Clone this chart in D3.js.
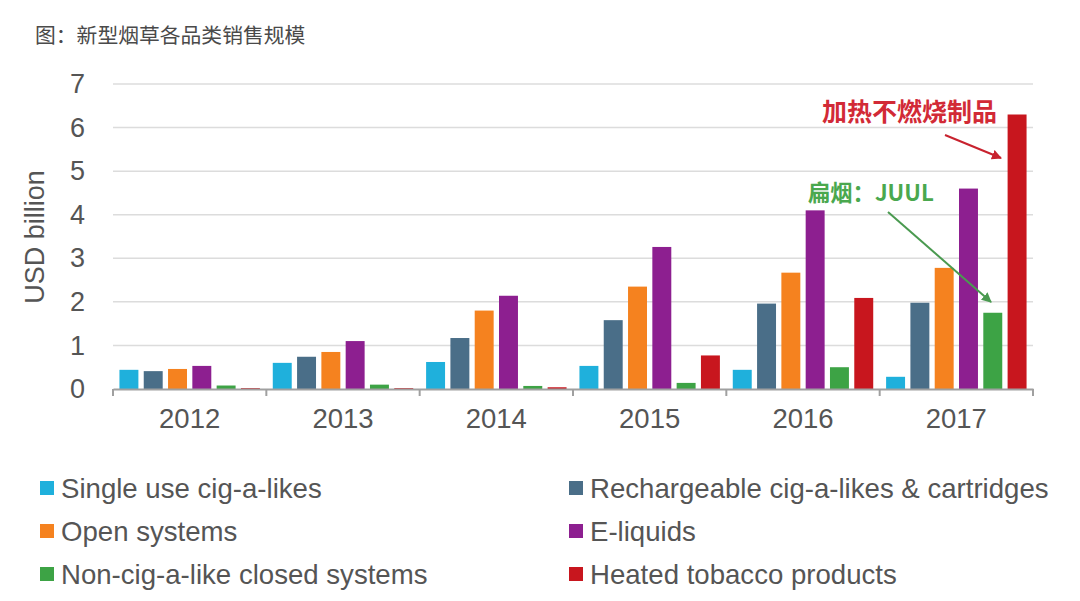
<!DOCTYPE html>
<html>
<head>
<meta charset="utf-8">
<script src="https://cdn.jsdelivr.net/npm/d3@7"></script>
<style>
  body { margin: 0; background: #fff; }
  svg { font-family: "Liberation Sans", Arial, sans-serif; }
</style>
</head>
<body>
<svg id="chart" width="1080" height="601"></svg>
<script>
var years = ["2012", "2013", "2014", "2015", "2016", "2017"];
var seriesNames = [
    "Single use cig-a-likes",
    "Rechargeable cig-a-likes & cartridges",
    "Open systems",
    "E-liquids",
    "Non-cig-a-like closed systems",
    "Heated tobacco products"
];
var singleUse     = [0.44, 0.60, 0.62, 0.53, 0.44, 0.28];
var rechargeable  = [0.41, 0.74, 1.17, 1.58, 1.96, 1.98];
var openSystems   = [0.46, 0.85, 1.80, 2.35, 2.67, 2.78];
var eLiquids      = [0.53, 1.10, 2.14, 3.26, 4.10, 4.60];
var closedSystems = [0.08, 0.10, 0.07, 0.14, 0.50, 1.75];
var heated        = [0.02, 0.02, 0.04, 0.77, 2.09, 6.30];
var yTicks = [0, 1, 2, 3, 4, 5, 6, 7];
var colors = ["#1fb0dc", "#4a6e88", "#f5821f", "#8d1f90", "#3da345", "#c8161e"];

var allSeries = [singleUse, rechargeable, openSystems, eLiquids, closedSystems, heated];

var svg = d3.select("#chart");
var plotLeft = 113, plotRight = 1033, plotTop = 84, plotBottom = 389;

var x0 = d3.scaleBand().domain(years).range([plotLeft, plotRight]).padding(0);
var x1 = d3.scaleBand().domain(d3.range(6)).range([0, x0.bandwidth()])
    .paddingInner(0.22).paddingOuter(0.265);
var y = d3.scaleLinear().domain([0, 7]).range([plotBottom, plotTop]);

// title
svg.append("text")
    .attr("x", 35).attr("y", 43)
    .attr("fill", "#4a4a4a")
    .style("font-family", "'Noto Sans CJK SC', sans-serif")
    .style("font-size", "20.8px")
    .text("图：新型烟草各品类销售规模");

// gridlines
svg.append("g")
    .selectAll("line")
    .data(yTicks.slice(1))
    .enter().append("line")
    .attr("x1", plotLeft).attr("x2", plotRight)
    .attr("y1", function (d) { return y(d); })
    .attr("y2", function (d) { return y(d); })
    .attr("stroke", "#dcdcdc")
    .attr("stroke-width", 1.5);

// y tick labels
var yAxis = svg.append("g")
    .attr("transform", "translate(" + plotLeft + ",0)")
    .call(d3.axisLeft(y).tickValues(yTicks).tickFormat(d3.format("d")).tickSize(0).tickPadding(28));
yAxis.select(".domain").remove();
yAxis.selectAll("text")
    .attr("fill", "#555")
    .style("font-size", "27px")
    .style("font-family", "'Liberation Sans', Arial, sans-serif");

svg.append("text")
    .attr("transform", "translate(44,237) rotate(-90)")
    .attr("text-anchor", "middle")
    .attr("fill", "#555")
    .style("font-size", "27px")
    .text("USD billion");

// bars
var groups = svg.append("g")
    .selectAll("g")
    .data(years)
    .enter().append("g")
    .attr("transform", function (d) { return "translate(" + x0(d) + ",0)"; });

groups.selectAll("rect")
    .data(function (d, i) {
        return allSeries.map(function (s, k) { return { k: k, v: s[i] }; });
    })
    .enter().append("rect")
    .attr("x", function (d) { return x1(d.k); })
    .attr("width", x1.bandwidth())
    .attr("y", function (d) { return y(d.v); })
    .attr("height", function (d) { return plotBottom - y(d.v); })
    .attr("fill", function (d) { return colors[d.k]; });

// x axis
var xAxis = svg.append("g")
    .attr("transform", "translate(0," + plotBottom + ")")
    .call(d3.axisBottom(x0).tickSize(0).tickPadding(19));
xAxis.select(".domain").attr("stroke", "#a0a0a0").attr("stroke-width", 2);
xAxis.selectAll("text")
    .attr("fill", "#555")
    .style("font-size", "27.5px")
    .style("font-family", "'Liberation Sans', Arial, sans-serif");

var bounds = years.map(function (d) { return x0(d); }).concat([plotRight]);
xAxis.selectAll(".bound")
    .data(bounds)
    .enter().append("line")
    .attr("class", "bound")
    .attr("x1", function (d) { return d; })
    .attr("x2", function (d) { return d; })
    .attr("y1", 0).attr("y2", 7)
    .attr("stroke", "#a0a0a0")
    .attr("stroke-width", 2);

// annotations
var defs = svg.append("defs");
function marker(id, color) {
    defs.append("marker")
        .attr("id", id)
        .attr("viewBox", "0 0 10 10")
        .attr("refX", 9).attr("refY", 5)
        .attr("markerWidth", 5).attr("markerHeight", 5)
        .attr("orient", "auto")
        .append("path")
        .attr("d", "M0,0L10,5L0,10z")
        .attr("fill", color);
}
marker("arrRed", "#c8222e");
marker("arrGreen", "#4a9a50");

svg.append("text")
    .attr("x", 822).attr("y", 121)
    .attr("fill", "#d22a36")
    .style("font-family", "'Noto Sans CJK SC', sans-serif")
    .style("font-size", "25px")
    .style("font-weight", "bold")
    .text("加热不燃烧制品");

svg.append("line")
    .attr("x1", 945).attr("y1", 135)
    .attr("x2", 1001).attr("y2", 158)
    .attr("stroke", "#c8222e").attr("stroke-width", 2)
    .attr("marker-end", "url(#arrRed)");

svg.append("text")
    .attr("x", 808).attr("y", 201)
    .attr("fill", "#4aa84e")
    .style("font-family", "'Noto Sans CJK SC', sans-serif")
    .style("font-size", "22.3px")
    .style("font-weight", "bold")
    .text("扁烟：JUUL");

svg.append("line")
    .attr("x1", 888).attr("y1", 212)
    .attr("x2", 991).attr("y2", 302)
    .attr("stroke", "#4a9a50").attr("stroke-width", 2)
    .attr("marker-end", "url(#arrGreen)");

// legend
var legendPos = [[40, 488], [569, 488], [40, 531], [569, 531], [40, 574], [569, 574]];
var legend = svg.append("g")
    .selectAll("g")
    .data(seriesNames)
    .enter().append("g")
    .attr("transform", function (d, i) { return "translate(" + legendPos[i][0] + "," + legendPos[i][1] + ")"; });
legend.append("rect")
    .attr("x", 0).attr("y", -7)
    .attr("width", 14).attr("height", 14)
    .attr("fill", function (d, i) { return colors[i]; });
legend.append("text")
    .attr("x", 21).attr("y", 0)
    .attr("dy", "0.36em")
    .attr("fill", "#555")
    .style("font-size", "27.6px")
    .text(function (d) { return d; });
</script>
</body>
</html>
